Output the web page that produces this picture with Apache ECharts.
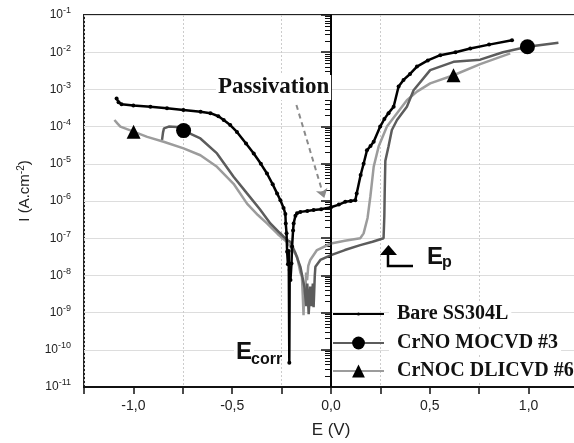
<!DOCTYPE html>
<html>
<head>
<meta charset="utf-8">
<script src="https://cdn.jsdelivr.net/npm/echarts@6/dist/echarts.min.js"></script>
<style>
  html, body { margin: 0; padding: 0; background: #fff; }
  #chart { width: 574px; height: 443px; }
</style>
</head>
<body>
<div id="chart"></div>
<script>
// E (V) and I (A.cm-2)
var bareE = [-1.085, -1.075, -1.06, -1.0, -0.914, -0.83, -0.747, -0.66, -0.61, -0.57, -0.543, -0.51, -0.476, -0.43, -0.391, -0.355, -0.324, -0.295, -0.273, -0.256, -0.24, -0.231, -0.229, -0.225, -0.222, -0.218, -0.214, -0.211, -0.209, -0.205, -0.2, -0.197, -0.192, -0.189, -0.18, -0.172, -0.155, -0.12, -0.088, -0.05, 0.0, 0.04, 0.072, 0.1, 0.123, 0.13, 0.15, 0.165, 0.182, 0.2, 0.216, 0.249, 0.27, 0.291, 0.317, 0.342, 0.367, 0.4, 0.435, 0.49, 0.553, 0.63, 0.705, 0.8, 0.916];
var bareI = [5.7e-4, 4.5e-4, 4.0e-4, 3.7e-4, 3.4e-4, 3.1e-4, 2.8e-4, 2.5e-4, 2.3e-4, 1.9e-4, 1.5e-4, 1.1e-4, 7.2e-5, 3.5e-5, 1.9e-5, 1.0e-5, 5.5e-6, 2.8e-6, 1.6e-6, 1.05e-6, 6.5e-7, 4.5e-7, 2.5e-7, 1.35e-7, 4.3e-8, 2.0e-8, 4.5e-8, 4.5e-11, 1.4e-8, 7.5e-9, 2.1e-8, 6.0e-8, 1.6e-7, 2.5e-7, 4.0e-7, 4.7e-7, 5.1e-7, 5.4e-7, 5.7e-7, 6.0e-7, 6.8e-7, 8.0e-7, 9.5e-7, 1.0e-6, 1.05e-6, 1.6e-6, 5.0e-6, 1.0e-5, 2.3e-5, 3.0e-5, 3.9e-5, 1.0e-4, 1.6e-4, 2.3e-4, 3.4e-4, 1.2e-3, 1.8e-3, 2.6e-3, 4.1e-3, 6.0e-3, 8.3e-3, 1.0e-2, 1.26e-2, 1.6e-2, 2.1e-2];

var crnoE = [-0.855, -0.85, -0.845, -0.821, -0.779, -0.746, -0.661, -0.577, -0.493, -0.425, -0.36, -0.307, -0.26, -0.223, -0.206, -0.18, -0.155, -0.135, -0.125, -0.12, -0.113, -0.105, -0.098, -0.092, -0.088, -0.082, -0.079, -0.054, 0.0, 0.07, 0.148, 0.21, 0.266, 0.27, 0.272, 0.275, 0.291, 0.308, 0.334, 0.384, 0.418, 0.502, 0.62, 0.755, 0.87, 0.994, 1.151];
var crnoI = [4.4e-5, 7.0e-5, 9.0e-5, 1.0e-4, 9.8e-5, 7.8e-5, 4.8e-5, 1.9e-5, 4.5e-6, 1.6e-6, 6.0e-7, 2.5e-7, 1.4e-7, 9.0e-8, 8.0e-8, 4.0e-8, 1.7e-8, 5.0e-9, 1.5e-9, 6.0e-9, 9.0e-10, 5.0e-9, 1.5e-9, 6.0e-9, 1.4e-9, 1.0e-8, 1.7e-8, 2.6e-8, 3.5e-8, 4.8e-8, 6.5e-8, 8.0e-8, 1.0e-7, 4.0e-7, 2.0e-6, 1.2e-5, 2.9e-5, 8.1e-5, 1.5e-4, 3.4e-4, 9.5e-4, 3.3e-3, 5.5e-3, 6.3e-3, 1.0e-2, 1.4e-2, 1.8e-2];
var crnoMarks = [-0.746, 0.994];

var crnocE = [-1.096, -1.08, -1.066, -0.999, -0.93, -0.847, -0.746, -0.661, -0.577, -0.493, -0.425, -0.37, -0.324, -0.27, -0.223, -0.195, -0.172, -0.155, -0.147, -0.143, -0.139, -0.136, -0.13, -0.126, -0.121, -0.115, -0.105, -0.071, 0.0, 0.07, 0.148, 0.165, 0.185, 0.199, 0.216, 0.241, 0.283, 0.334, 0.384, 0.435, 0.502, 0.62, 0.755, 0.907];
var crnocI = [1.5e-4, 1.2e-4, 1.0e-4, 7.3e-5, 5.3e-5, 3.9e-5, 2.6e-5, 1.7e-5, 8.3e-6, 2.9e-6, 8.5e-7, 4.2e-7, 2.5e-7, 1.3e-7, 7.9e-8, 5.0e-8, 3.2e-8, 1.2e-8, 9.0e-9, 3.0e-9, 8.5e-10, 4.0e-9, 3.0e-9, 1.2e-8, 7.4e-9, 1.8e-8, 2.6e-8, 4.8e-8, 7.2e-8, 8.5e-8, 1.0e-7, 1.35e-7, 3.5e-7, 1.3e-6, 8.3e-6, 2.9e-5, 1.0e-4, 2.3e-4, 5.1e-4, 8.7e-4, 1.45e-3, 2.4e-3, 4.8e-3, 9.3e-3];
var crnocMarks = [-0.999, 0.62];

var seriesNames = ['Bare SS304L', 'CrNO MOCVD #3', 'CrNOC DLICVD #6'];
var xTickLabels = ['-1,0', '-0,5', '0,0', '0,5', '1,0'];

var sans = 'Liberation Sans, Arial, sans-serif';
var serif = 'Liberation Serif, Times New Roman, serif';

function pairs(xs, ys, marks) {
    var out = [];
    for (var i = 0; i < xs.length; i++) {
        if (!marks) {
            out.push([xs[i], ys[i]]);
        } else {
            out.push({ value: [xs[i], ys[i]], symbol: marks.indexOf(xs[i]) >= 0 ? undefined : 'none' });
        }
    }
    return out;
}

var legendText = {
    fontFamily: serif, fontWeight: 'bold', fontSize: 20, color: '#111',
    backgroundColor: '#fff', padding: [2, 3, 2, 8]
};

var chart = echarts.init(document.getElementById('chart'), null, { renderer: 'canvas' });

var option = {
    animation: false,
    backgroundColor: '#fff',
    grid: {
        left: 84, top: 15, right: -4, bottom: 56,
        outerBoundsMode: 'none',
        containLabel: false,
        show: true, borderColor: '#222', borderWidth: 2, backgroundColor: 'transparent'
    },
    legend: [{
        // small-dot icon for the bare steel curve
        orient: 'vertical', left: 332, top: 302, padding: 0,
        itemWidth: 51, itemHeight: 4, itemGap: 4,
        data: [seriesNames[0]],
        textStyle: legendText
    }, {
        orient: 'vertical', left: 332, top: 331, padding: 0,
        itemWidth: 51, itemHeight: 16, itemGap: 4,
        data: [seriesNames[1], seriesNames[2]],
        textStyle: legendText
    }],
    xAxis: [{
        type: 'value',
        min: -1.25, max: 1.25, interval: 0.25,
        axisLine: { lineStyle: { color: '#111', width: 2 } },
        axisTick: { length: 7, lineStyle: { color: '#111', width: 1.5 } },
        axisLabel: {
            margin: 12, color: '#222', fontFamily: sans, fontSize: 14,
            formatter: function (v) {
                var k = Math.round(v * 2);
                if (Math.abs(v * 2 - k) > 1e-6 || Math.abs(v) > 1.01) return '';
                return xTickLabels[k + 2];
            }
        },
        splitLine: { show: false },
        name: 'E (V)', nameLocation: 'middle', nameGap: 35,
        nameTextStyle: { fontFamily: sans, fontSize: 17, color: '#222' }
    }, {
        // dotted guides at the quarter marks
        type: 'value',
        position: 'bottom',
        min: -1.25, max: 1.25, interval: 0.5,
        axisLine: { show: false }, axisTick: { show: false }, axisLabel: { show: false },
        splitLine: { show: true, lineStyle: { color: '#ccc', type: [2, 2], width: 1 } }
    }],
    yAxis: {
        type: 'log', logBase: 10,
        min: 1e-11, max: 1e-1, interval: 1,
        axisLine: { show: true, lineStyle: { color: '#111', width: 2 } },
        axisTick: { show: true, length: 10, lineStyle: { color: '#111', width: 1.5 } },
        minorTick: { show: true, splitNumber: 9, length: 6, lineStyle: { color: '#111', width: 1 } },
        splitLine: { show: true, lineStyle: { color: '#ddd', width: 1 } },
        axisLabel: {
            margin: 13, color: '#222', fontFamily: sans,
            formatter: function (v) {
                return '{b|10}{s|' + Math.round(Math.log(v) / Math.LN10) + '}';
            },
            rich: {
                b: { fontSize: 12, fontFamily: sans, color: '#222' },
                s: { fontSize: 9, fontFamily: sans, color: '#222', verticalAlign: 'top', padding: [0, 0, 8, 0] }
            }
        },
        name: 'I (A.cm{s|-2})', nameLocation: 'middle', nameGap: 50,
        nameTextStyle: {
            fontFamily: sans, fontSize: 15, color: '#222', padding: [0, 0, 0, 20],
            rich: { s: { fontSize: 10, fontFamily: sans, color: '#222', padding: [0, 0, 8, 0] } }
        }
    },
    series: [{
        name: seriesNames[0],
        type: 'line',
        data: pairs(bareE, bareI),
        symbol: 'circle', symbolSize: 4, showSymbol: true,
        itemStyle: { color: '#000' },
        lineStyle: { color: '#000', width: 2.5 },
        z: 4,
        markLine: {
            silent: true,
            symbol: ['none', 'none'],
            label: { show: false },
            lineStyle: { color: '#000', width: 1.5, type: 'solid' },
            data: [
                { xAxis: 0 },
                [
                    { coord: [-0.175, 3.8e-4], symbol: 'none', lineStyle: { color: '#8a8a8a', width: 2, type: [5, 4] } },
                    { coord: [-0.034, 1.2e-6], symbol: 'arrow', symbolSize: 9 }
                ]
            ]
        }
    }, {
        name: seriesNames[1],
        type: 'line',
        data: pairs(crnoE, crnoI, crnoMarks),
        symbol: 'circle', symbolSize: 15, showSymbol: true,
        itemStyle: { color: '#000' },
        lineStyle: { color: '#5c5c5c', width: 2.5 },
        z: 3
    }, {
        name: seriesNames[2],
        type: 'line',
        data: pairs(crnocE, crnocI, crnocMarks),
        symbol: 'triangle', symbolSize: 14, showSymbol: true,
        itemStyle: { color: '#000' },
        lineStyle: { color: '#9c9c9c', width: 2.5 },
        z: 2
    }],
    graphic: [
        { type: 'text', left: 216, top: 75, z: 10, style: { text: 'Passivation', font: 'bold 23px ' + serif, fill: '#111', backgroundColor: '#fff', padding: [1, 2] } },
        { type: 'text', x: 234, y: 340, z: 10, style: { text: 'E', font: 'bold 24px ' + sans, fill: '#111', backgroundColor: '#fff', padding: [0, 2] } },
        { type: 'text', x: 251, y: 352, z: 10, style: { text: 'corr', font: 'bold 16px ' + sans, fill: '#111' } },
        { type: 'text', x: 427, y: 245, z: 10, style: { text: 'E', font: 'bold 24px ' + sans, fill: '#111' } },
        { type: 'text', x: 442, y: 255, z: 10, style: { text: 'p', font: 'bold 16px ' + sans, fill: '#111' } },
        { type: 'polyline', z: 10, shape: { points: [[388, 255], [388, 266], [413, 266]] }, style: { stroke: '#000', lineWidth: 2.5, fill: null } },
        { type: 'polygon', z: 10, shape: { points: [[380, 255], [397, 255], [388.5, 245]] }, style: { fill: '#000' } }
    ]
};

chart.setOption(option);
</script>
</body>
</html>
